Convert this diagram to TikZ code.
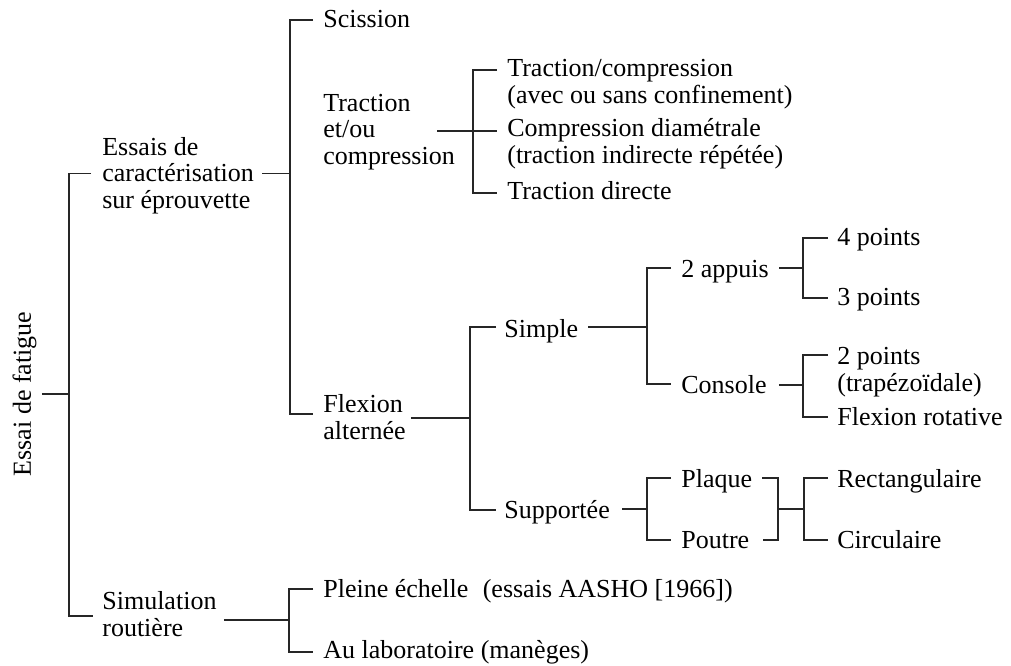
\documentclass[tikz,border=0pt]{standalone}
\usepackage{fontspec}
\setmainfont{Liberation Serif}
\tikzset{
  leaf/.style={anchor=base west, inner sep=0pt, align=left, font=\fontsize{14.8}{15}\selectfont},
  branch/.style={draw=black!85, line width=0.7pt}
}
\begin{document}
\begin{tikzpicture}[x=0.02cm, y=-0.02cm]
    \useasboundingbox (0,0) rectangle (1011,666);

    % 1. Racine et premier niveau (noeuds multi-lignes : base = derniere ligne)
    \node[leaf, rotate=90, anchor=base] (root) at (31,394) {Essai de fatigue};
    \node[leaf] (ess) at (102,208) {Essais de\\caractérisation\\sur éprouvette};
    \node[leaf] (sim) at (102,636) {Simulation\\routière};

    \coordinate (spA) at (69,394);
    \draw[branch] ([shift={(5,0)}]root.south) -- (spA);
    \draw[branch] ([shift={(-11,-2)}]ess.west) -| (spA) |- ([shift={(-9,2)}]sim.west);

    % 2. Essais sur éprouvette
    \node[leaf] (scis) at (323,28) {Scission};
    \node[leaf] (trac) at (323,164) {Traction\\et/ou\\compression};
    \node[leaf] (flex) at (323,439) {Flexion\\alternée};

    \coordinate (spB) at (290,173);
    \draw[branch] ([shift={(8,-2)}]ess.east) -| (spB);
    \draw[branch] ([shift={(-10,-8)}]scis.base west) -| (spB) |- ([shift={(-10,-3)}]flex.west);

    % Traction et/ou compression
    \node[leaf] (tc) at (507,103) {Traction/compression\\(avec ou sans confinement)};
    \node[leaf] (cd) at (507,163) {Compression diamétrale\\(traction indirecte répétée)};
    \node[leaf] (td) at (507,199) {Traction directe};

    \coordinate (spC) at (473,131);
    \draw[branch] ([shift={(-10,-33)}]tc.base west) -| (spC) |- ([shift={(-10,-6)}]td.base west);
    \draw[branch] (spC -| trac.east) ++(-18,0) -- (spC);
    \draw[branch] (spC) -- ([shift={(-10,-32)}]cd.base west);

    % 3. Flexion alternée
    \node[leaf] (simp) at (504,337) {Simple};
    \node[leaf] (supp) at (504,518) {Supportée};

    \coordinate (spD) at (470,418);
    \draw[branch] ([shift={(5,1)}]flex.east) -| (spD);
    \draw[branch] ([shift={(-8,-10)}]simp.base west) -| (spD) |- ([shift={(-8,-8)}]supp.base west);

    % Simple : 2 appuis / console
    \node[leaf] (app) at (681,277) {2 appuis};
    \node[leaf] (cons) at (681,393) {Console};

    \coordinate (spE) at (647,327);
    \draw[branch] ([shift={(10,-10)}]simp.base east) -- (spE);
    \draw[branch] ([shift={(-10,-9)}]app.base west) -| (spE) |- ([shift={(-10,-9)}]cons.base west);

    \node[leaf] (p4) at (837,245) {4 points};
    \node[leaf] (p3) at (837,305) {3 points};
    \coordinate (spF) at (803,268);
    \draw[branch] ([shift={(10,-9)}]app.base east) -- (spF);
    \draw[branch] ([shift={(-9,-7)}]p4.base west) -| (spF) |- ([shift={(-9,-7)}]p3.base west);

    \node[leaf] (p2) at (837,391) {2 points\\(trapézoïdale)};
    \node[leaf] (fr) at (837,425) {Flexion rotative};
    \coordinate (spG) at (803,385);
    \draw[branch] ([shift={(12,-8)}]cons.base east) -- (spG);
    \draw[branch] ([shift={(-9,-36)}]p2.base west) -| (spG) |- ([shift={(-9,-8)}]fr.base west);

    % Supportée : plaque / poutre
    \node[leaf] (pl) at (681,487) {Plaque};
    \node[leaf] (pt) at (681,548) {Poutre};
    \coordinate (spH) at (647,509);
    \draw[branch] ([shift={(12,-9)}]supp.base east) -- (spH);
    \draw[branch] ([shift={(-10,-9)}]pl.base west) -| (spH) |- ([shift={(-10,-8)}]pt.base west);

    \node[leaf] (rect) at (837,487) {Rectangulaire};
    \node[leaf] (circ) at (837,548) {Circulaire};
    \coordinate (spI) at (778,509);
    \coordinate (spJ) at (804,509);
    \draw[branch] ([shift={(10,-9)}]pl.base east) -| (spI) |- ([shift={(13,-8)}]pt.base east);
    \draw[branch] (spI) -- (spJ);
    \draw[branch] ([shift={(-9,-9)}]rect.base west) -| (spJ) |- ([shift={(-9,-8)}]circ.base west);

    % 4. Simulation routière
    \node[leaf] (pe) at (323,597) {Pleine échelle\hspace{0.55em}(essais AASHO [1966])};
    \node[leaf] (al) at (323,658) {Au laboratoire (manèges)};
    \coordinate (spK) at (289,620);
    \draw[branch] ([shift={(7,6)}]sim.east) -| (spK);
    \draw[branch] ([shift={(-10,-8)}]pe.base west) -| (spK) |- ([shift={(-10,-6)}]al.base west);

\end{tikzpicture}
\end{document}
